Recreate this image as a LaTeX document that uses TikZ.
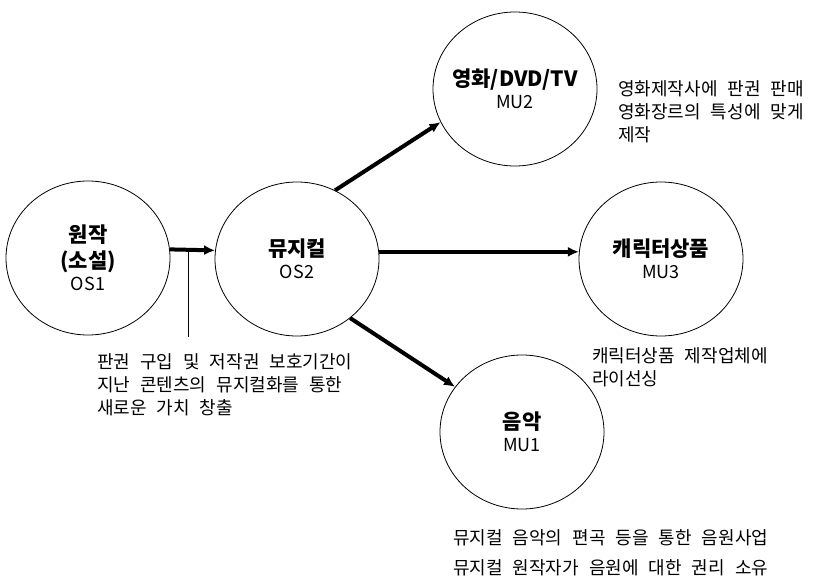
\documentclass[tikz,border=0pt]{standalone}
\usepackage{fontspec}
\setmainfont{Noto Sans CJK KR}
\usetikzlibrary{shapes.geometric,arrows.meta}
\newcommand{\namefont}{\fontsize{21}{26}\selectfont\bfseries}
\newcommand{\codefont}{\fontsize{18}{22}\selectfont\mdseries}
\newcommand{\notefont}{\fontsize{18}{23}\selectfont\spaceskip=10pt\relax}

\begin{document}
\begin{tikzpicture}[x=1pt, y=-1pt,
  work/.style={draw, ellipse, line width=0.8pt, minimum width=164pt, minimum height=154pt, inner sep=0pt, align=center, font=\namefont},
  note/.style={anchor=north west, inner sep=0pt, align=left, font=\notefont},
  flow/.style={line width=4pt, -{Latex[length=11pt,width=10pt]}}
]
\useasboundingbox (0,0) rectangle (814,580);
\node[work] (os1) at (88,258) {원작\\(소설)\\[-4pt]{\codefont OS1}};
\node[work] (os2) at (297,259) {뮤지컬\\[-4pt]{\codefont OS2}};
\node[work] (mu2) at (515,89) {\makebox[0pt]{영화/DVD/TV}\\[-4pt]{\codefont MU2}};
\node[work] (mu3) at (661,259) {캐릭터상품\\[-4pt]{\codefont MU3}};
\node[work] (mu1) at (522,432) {음악\\[-4pt]{\codefont MU1}};

\node[note] (os2note) at (97,353) {판권 구입 및 저작권 보호기간이\\지난 콘텐츠의 뮤지컬화를 통한\\새로운 가치 창출};
\node[note] (mu2note) at (618,80) {영화제작사에 판권 판매\\영화장르의 특성에 맞게\\제작};
\node[note] (mu3note) at (592,347) {캐릭터상품 제작업체에\\라이선싱};
\node[note] (mu1note) at (453,529) {뮤지컬 음악의 편곡 등을 통한 음원사업\\[7pt]뮤지컬 원작자가 음원에 대한 권리 소유};

\draw[flow] (os1.6) -- coordinate[pos=0.4] (tap) (os2.174);
\coordinate (tapfoot) at (187,337);
\draw[line width=0.8pt] (tap) -- (tap |- tapfoot);
\draw[flow] (os2.61) -- (mu2.204);
\draw[flow] (os2.5) -- (mu3.175);
\draw[flow] (os2.-48) -- (mu1.146);
\end{tikzpicture}
\end{document}
